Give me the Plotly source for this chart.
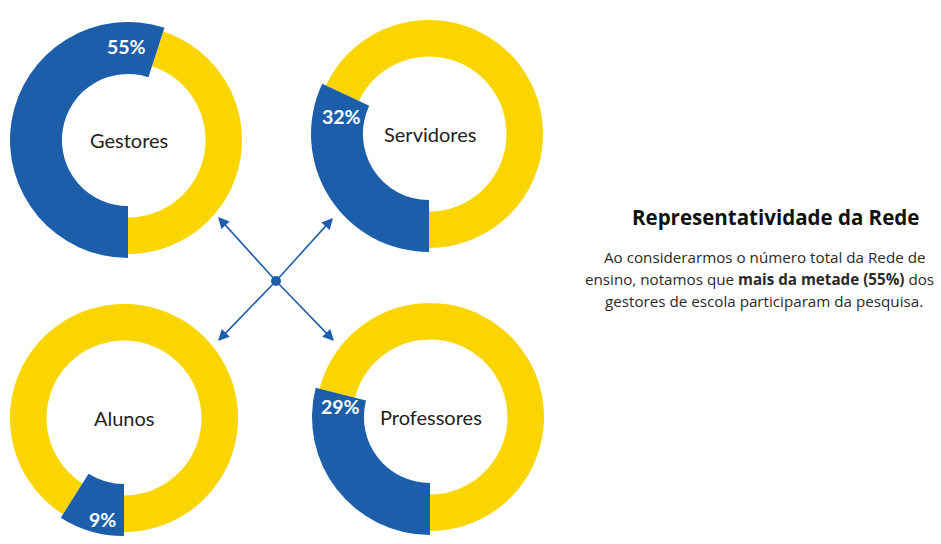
import plotly.graph_objects as go

W, H = 941, 544

groups = ["Gestores", "Servidores", "Alunos", "Professores"]
participation = [55, 32, 9, 29]

title_text = "Representatividade da Rede"
para_lines = [
    "Ao considerarmos o número total da Rede de",
    "ensino, notamos que <b>mais da metade (55%)</b> dos",
    "gestores de escola participaram da pesquisa.",
]

BLUE = "#1D5EAB"
YELLOW = "#FAD500"

# layout styles (pixel positions)
centers = [(128, 140), (429, 134), (124, 418), (430, 417)]
pct_pos = [(127, 46), (341, 116), (102, 519), (340, 406)]
R_Y, HOLE_Y = 114, 0.68
R_B, HOLE_B = 118, 0.56

def px(x):
    return x / W

def py(y):
    return 1 - y / H

def dom(cx, cy, r):
    return dict(x=[px(cx - r), px(cx + r)], y=[py(cy + r), py(cy - r)])

fig = go.Figure()
for name, v, (cx, cy) in zip(groups, participation, centers):
    # yellow ring (remainder)
    fig.add_trace(go.Pie(
        values=[v, 100 - v], labels=["Participou", "Não participou"],
        marker=dict(colors=["rgba(0,0,0,0)", YELLOW], line=dict(width=0)),
        hole=HOLE_Y, sort=False, direction="clockwise", rotation=180,
        textinfo="none", hoverinfo="skip", showlegend=False, domain=dom(cx, cy, R_Y),
    ))
    # blue ring (participation), slightly thicker
    fig.add_trace(go.Pie(
        values=[v, 100 - v], labels=["Participou", "Não participou"],
        marker=dict(colors=[BLUE, "rgba(0,0,0,0)"], line=dict(width=0)),
        hole=HOLE_B, sort=False, direction="clockwise", rotation=180,
        textinfo="none", hoverinfo="label+percent", showlegend=False, domain=dom(cx, cy, R_B),
    ))

annotations = []
for name, v, (cx, cy), (lx, ly) in zip(groups, participation, centers, pct_pos):
    annotations.append(dict(x=px(cx + 1), y=py(cy), xref="paper", yref="paper", text=name,
                            xanchor="center", yanchor="middle",
                            showarrow=False, font=dict(family="Lato", size=20, color="#222")))
    annotations.append(dict(x=px(lx), y=py(ly), xref="paper", yref="paper", text=f"<b>{v}%</b>",
                            xanchor="center", yanchor="middle",
                            showarrow=False, font=dict(family="Lato", size=19.5, color="white")))

# arrows from hub
hub = (276, 281)
tips = [(218, 217), (333, 218), (218, 341), (334, 341)]
for tx, ty in tips:
    annotations.append(dict(x=px(tx), y=py(ty), xref="paper", yref="paper",
                            ax=hub[0] - tx, ay=hub[1] - ty, axref="pixel", ayref="pixel",
                            text="", showarrow=True, arrowhead=2, arrowsize=1.4,
                            arrowwidth=1.6, arrowcolor=BLUE))

annotations.append(dict(x=px(775), y=py(217), xref="paper", yref="paper",
                        xanchor="center", yanchor="middle",
                        text=f"<b>{title_text}</b>", showarrow=False,
                        font=dict(family="Open Sans", size=20.5, color="#111")))
line_ends = [927, 936, 925]
line_ys = [257, 279, 301]
for t, xe, yl in zip(para_lines, line_ends, line_ys):
    annotations.append(dict(x=px(xe), y=py(yl), xref="paper", yref="paper",
                            xanchor="right", yanchor="middle",
                            text=t, showarrow=False,
                            font=dict(family="Open Sans", size=15.2, color="#2a2a2a")))

shapes = [dict(type="circle", xref="paper", yref="paper",
               x0=px(hub[0] - 5), x1=px(hub[0] + 5), y0=py(hub[1] + 5), y1=py(hub[1] - 5),
               fillcolor=BLUE, line=dict(width=0))]

fig.update_layout(width=W, height=H, margin=dict(l=0, r=0, t=0, b=0),
                  paper_bgcolor="white", plot_bgcolor="white",
                  annotations=annotations, shapes=shapes)
fig.write_html("out.html")
